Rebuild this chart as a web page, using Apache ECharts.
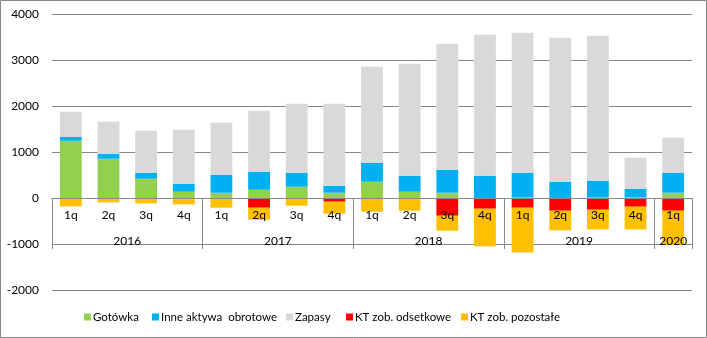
<!DOCTYPE html>
<html><head><meta charset="utf-8">
<script src="https://cdn.jsdelivr.net/npm/echarts@6/dist/echarts.min.js"></script>
<style>html,body{margin:0;padding:0;background:#fff}#c{width:707px;height:338px}</style>
</head><body><div id="c"></div>
<script>
const quarters = ['1q','2q','3q','4q','1q','2q','3q','4q','1q','2q','3q','4q','1q','2q','3q','4q','1q'];
const years = ['2016','2017','2018','2019','2020'];
const yearSizes = [4,4,4,4,1];
const seriesNames = ['Gotówka','Inne aktywa  obrotowe','Zapasy','KT zob. odsetkowe','KT zob. pozostałe'];
const gotowka =    [1245, 854, 420, 137, 115, 180, 246, 115, 354, 137, 115,    0,   20,    0,   20,   20,  115];
const inneAktywa = [  88, 109, 130, 174, 392, 392, 304, 152, 413, 348, 500,  485,  530,  354,  356,  182,  435];
const zapasy =     [ 543, 696, 913,1174,1130,1326,1500,1783,2087,2435,2739, 3065, 3043, 3131, 3152,  674,  761];
const ktOdsetkowe =[   0,   0,   0, -25,   0,-211,   0, -80,   0,   0,-385, -233, -211, -276, -254, -189, -276];
const ktPozostale =[-183, -95,-117,-115,-211,-261,-167,-261,-298,-276,-326, -819, -972, -428, -429, -494, -746];
const yTicks = [-2000,-1000,0,1000,2000,3000,4000];

const font = 'Lato, "Liberation Sans", sans-serif';
const gridColor = '#898989';
const colors = ['#92D050','#00B0F0','#D9D9D9','#FF0000','#FFC000'];
const legendLeft = [84, 152, 286, 346, 461];
const W = 707, H = 338;
const grid = {left:52, right:15, top:14, bottom:48};
const yMin = yTicks[0], yMax = yTicks[yTicks.length-1];
// lift the category axis from the grid bottom up to the value 0
const zeroOffset = -(H - grid.top - grid.bottom) * (0 - yMin) / (yMax - yMin);
// group boundaries and centres on a 0..17 value axis
const bounds = [0]; const centres = [];
yearSizes.forEach(function(s){ const a = bounds[bounds.length-1]; centres.push(a + s/2); bounds.push(a + s); });

const chart = echarts.init(document.getElementById('c'), null, {renderer:'canvas'});
const dataSets = [gotowka, inneAktywa, zapasy, ktOdsetkowe, ktPozostale];
chart.setOption({
  animation:false,
  color:colors,
  textStyle:{fontFamily:font},
  graphic:[{type:'rect', shape:{x:0.5,y:0.5,width:706,height:337}, style:{fill:'none', stroke:'#878787', lineWidth:1}, silent:true}],
  grid:grid,
  legend:seriesNames.map(function(n, i){ return {
    left:legendLeft[i], top:311, itemWidth:7, itemHeight:7, icon:'rect', padding:0,
    textStyle:{fontFamily:font, fontSize:11.5, color:'#000', padding:[0,0,0,-3]},
    data:[n]
  };}),
  xAxis:[
    {type:'category', data:quarters, position:'bottom', offset:zeroOffset, z:10,
     axisLine:{onZero:false, lineStyle:{color:gridColor, width:1}},
     axisTick:{show:false},
     axisLabel:{fontFamily:font, fontSize:12, color:'#000', margin:11, interval:0}},
    {type:'value', min:0, max:quarters.length, position:'bottom', offset:zeroOffset, z:10,
     axisLine:{show:false, onZero:false},
     splitLine:{show:false},
     axisTick:{show:true, customValues:bounds, length:51, inside:false, lineStyle:{color:gridColor, width:1}},
     axisLabel:{customValues:centres, fontFamily:font, fontSize:12, color:'#000', margin:37,
       formatter:function(v){ const i = centres.indexOf(v); return i>=0 ? years[i] : ''; }}}
  ],
  yAxis:[
    {type:'value', min:yMin, max:yMax, interval:1000,
     axisLine:{show:false}, axisTick:{show:false},
     splitLine:{lineStyle:{color:gridColor, width:1}},
     axisLabel:{fontFamily:font, fontSize:12, color:'#000', margin:13,
       formatter:function(v){ return yTicks.indexOf(v)>=0 ? String(v) : ''; }}}
  ],
  series:seriesNames.map(function(n, i){ return {
    name:n, type:'bar', stack:'s', data:dataSets[i], barCategoryGap:'42%',
    itemStyle:{color:colors[i]}, xAxisIndex:0, yAxisIndex:0
  };})
});
</script></body></html>
